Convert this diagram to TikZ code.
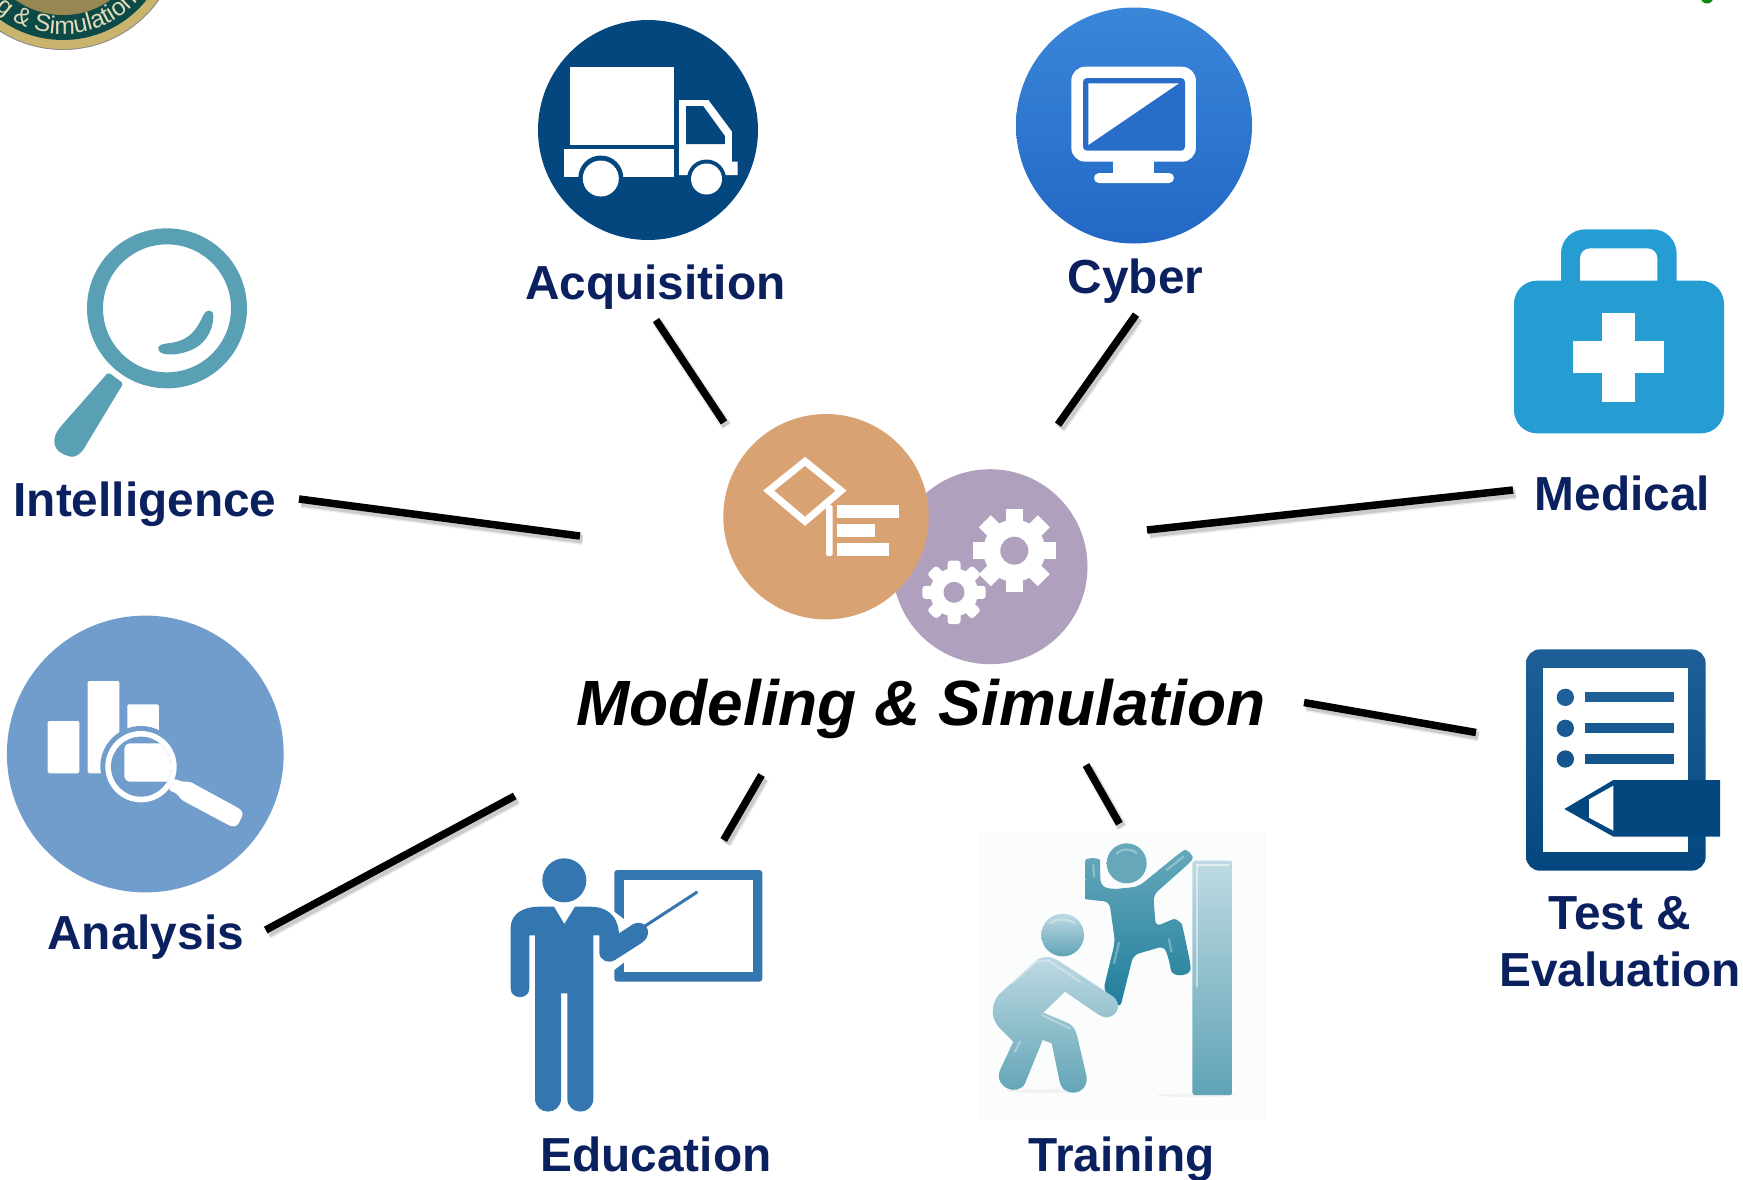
\documentclass[tikz,border=0pt]{standalone}
\usepackage{fontspec}
\setmainfont{Liberation Sans}
\usetikzlibrary{decorations.text}
\definecolor{navy}{HTML}{0B205F}
\definecolor{acqblue}{HTML}{04477F}
\definecolor{cyt}{HTML}{3A86D8}
\definecolor{cyb}{HTML}{2368C5}
\definecolor{edublue}{HTML}{3376B0}
\definecolor{ana}{HTML}{719DCD}
\definecolor{ora}{HTML}{D9A273}
\definecolor{pur}{HTML}{AFA0BD}
\definecolor{intel}{HTML}{5AA0B4}
\definecolor{med}{HTML}{259DD3}
\definecolor{rimgold}{HTML}{C9B46E}
\definecolor{medgreen}{HTML}{0C4A48}
\definecolor{tallgreen}{HTML}{0B8A12}
\definecolor{testtop}{HTML}{1F5F97}
\definecolor{climbtop}{HTML}{66A8BA}
\definecolor{climbbot}{HTML}{1F7E9C}
\definecolor{helptop}{HTML}{BFDAE2}
\definecolor{helpbot}{HTML}{5FA3B6}
\definecolor{traybg}{HTML}{FBFDFD}
\tikzset{
  label/.style={anchor=base,text=navy,inner sep=0pt,font=\fontsize{47.8}{57}\selectfont\bfseries},
  title/.style={anchor=base,text=black,inner sep=0pt,font=\fontsize{64}{70}\selectfont\bfseries\itshape},
  link/.style={line width=7.5pt,black,
    preaction={draw=black!50,line width=11pt,opacity=.15,transform canvas={shift={(2.5pt,-3.5pt)}}},
    preaction={draw=black!50,line width=8pt,opacity=.3,transform canvas={shift={(2.5pt,-3.5pt)}}}},
  zoomed/.style 2 args={shift={(#1,#2)},x=0.33333pt,y=-0.33333pt},
  truckzoom/.style={shift={(530,10)},x=0.4719pt,y=-0.33333pt},
  glint/.style={white,opacity=.3,line width=2.2pt,line cap=round},
}
\begin{document}
\begin{tikzpicture}[x=1pt,y=-1pt]
\useasboundingbox (0,0) rectangle (1743,1179);
\fill[white] (0,0) rectangle (1743,1179);
\clip (0,0) rectangle (1743,1179);

% medallion, cut by the top edge
\fill[black!45] (63,-67.5) circle [radius=117.5];
\fill[rimgold] (63,-67) circle [radius=116];
\fill[medgreen] (63,-67) circle [radius=107];
\fill[rimgold!75!black] (63,-67) circle [radius=82];
\path[decorate,decoration={text along path,text align=left,
   text={|\fontsize{24.6}{26}\selectfont\color{rimgold!50!white}|g {\&} Simulation}}]
   plot[domain=132:30,samples=50] ({63+101*cos(\x)},{-67+101*sin(\x)});
% remnant of a green letter, top right
\fill[tallgreen] (1707,-3) circle [radius=6.5];

% Acquisition icon
\fill[acqblue] (648,130) circle [radius=110];
\begin{scope}[truckzoom]
  \fill[white] (84,172) rectangle (306,405);
  \fill[white] (72,417) rectangle (306,500);
  \fill[white] (316,270) -- (378,270) -- (428,365) -- (428,455) -- (440,455) -- (440,495) -- (316,495) -- cycle;
  \fill[acqblue] (331,288) -- (367,288) -- (413,378) -- (413,402) -- (331,402) -- cycle;
\end{scope}
\fill[acqblue] (600.8,178) circle [radius=22.5];
\fill[acqblue] (706.5,179) circle [radius=19.5];
\fill[white] (600.8,178.5) circle [radius=18];
\fill[white] (706.5,179) circle [radius=15.5];

% Cyber icon
\shade[top color=cyt,bottom color=cyb] (1134,125.5) circle [radius=118];
\fill[white,rounded corners=14pt] (1071.3,66.7) rectangle (1195.9,161.7);
\fill[cyb!80!cyt,rounded corners=4pt] (1083,78) rectangle (1185,150.7);
\fill[white] (1088.3,83.3) -- (1178.9,83.3) -- (1088.3,145) -- cycle;
\fill[white] (1113.3,160) rectangle (1154.3,175);
\fill[white,rounded corners=5pt] (1094,173) rectangle (1174,183);

% Centre icons
\fill[pur] (990,566.7) circle [radius=97.5];
\begin{scope}[shift={(1014.3,550.7)}]
  \fill[white] (0,0) circle [radius=31];
  \foreach \a in {0,45,...,135} \fill[white,rotate=\a] (-8.5,-41.7) rectangle (8.5,41.7);
  \fill[pur] (0,0) circle [radius=14];
\end{scope}
\begin{scope}[shift={(954,592.3)}]
  \fill[white] (0,0) circle [radius=24];
  \foreach \a in {0,45,...,135} \fill[white,rotate=\a,rounded corners=3pt] (-6.5,-31.7) rectangle (6.5,31.7);
  \fill[pur] (0,0) circle [radius=10.5];
\end{scope}
\fill[ora] (826,516.7) circle [radius=102.7];
\begin{scope}[zoomed={700}{400}]
  \draw[white,line width=7pt,line join=miter] (315,184) -- (423,272) -- (315,364) -- (206,272) -- cycle;
  \fill[white,rounded corners=1.5pt] (378,315) rectangle (398,468);
  \fill[white] (412,314) rectangle (597,354);
  \fill[white] (412,372) rectangle (525,411);
  \fill[white] (412,428) rectangle (568,468);
\end{scope}

% Intelligence icon
\begin{scope}[zoomed={40}{220}]
  \draw[intel,line width=16pt] (381,265) circle [radius=216];
  \fill[intel,rounded corners=2pt] (205,457) -- (250,490) -- (140,672) .. controls (125,700) and (105,715) .. (85,708) .. controls (55,698) and (35,680) .. (48,640) -- (60,622) -- cycle;
  \fill[intel] (355,382) .. controls (360,368) and (395,372) .. (420,362) .. controls (455,350) and (475,320) .. (490,285) .. controls (497,268) and (522,265) .. (520,290) .. controls (518,340) and (490,380) .. (440,395) .. controls (405,408) and (350,408) .. (355,382) -- cycle;
\end{scope}

% Medical icon
\begin{scope}[zoomed={1500}{220}]
  \fill[med,rounded corners=24pt] (183,28) rectangle (530,260);
  \fill[white,rounded corners=10pt] (240,85) rectangle (472,220);
  \fill[med,rounded corners=23pt] (42,182) rectangle (672,640);
  \fill[white] (306,278) rectangle (405,547);
  \fill[white] (220,362) rectangle (491,460);
\end{scope}

% Analysis icon
\fill[ana] (145.3,754) circle [radius=138.4];
\begin{scope}[zoomed={0}{610}]
  \fill[white,rounded corners=1.5pt] (143,333) rectangle (238,490);
  \fill[white,rounded corners=1.5pt] (263,213) rectangle (358,490);
  \fill[white,rounded corners=1.5pt] (382,283) rectangle (477,400);
  \fill[ana] (423,470) circle [radius=122];
  \fill[white] (423,470) circle [radius=107];
  \fill[ana] (423,470) circle [radius=90];
  \begin{scope}
    \clip (423,470) circle [radius=90];
    \fill[white,rounded corners=6pt] (373,400) rectangle (520,515);
  \end{scope}
  \fill[white,rounded corners=3pt] (522,505) -- (545,515) -- (570,515) -- (722,598) -- (730,612) -- (712,648) -- (695,650) -- (545,570) -- (530,550) -- (505,540) -- cycle;
\end{scope}

% Education icon
\begin{scope}[zoomed={480}{830}]
  \fill[edublue,rounded corners=3pt] (403,120) rectangle (847,455);
  \fill[white] (433,151) rectangle (818,425);
  \fill[white] (396,240) -- (435,270) -- (435,395) -- (396,425) -- cycle;
  \draw[edublue,line width=3pt,line cap=round] (495,288) -- (650,187);
  \fill[edublue] (253,151) circle [radius=66];
  \fill[edublue] (222,230) -- (253,282) -- (285,230) -- (330,230)
     .. controls (375,230) and (412,250) .. (417,310)
     -- (460,282) .. controls (485,270) and (510,290) .. (503,315)
     .. controls (500,328) and (490,335) .. (480,342)
     -- (405,390) .. controls (385,402) and (358,390) .. (358,368)
     -- (358,316) -- (340,316) -- (340,805)
     .. controls (340,858) and (262,858) .. (262,805)
     -- (262,490) -- (243,490) -- (243,805)
     .. controls (243,858) and (165,858) .. (165,805)
     -- (165,316) -- (148,316) -- (148,475)
     .. controls (148,510) and (92,510) .. (92,475)
     -- (92,295) .. controls (92,250) and (130,230) .. (180,230) -- cycle;
\end{scope}

% Training icon
\begin{scope}[zoomed={970}{820}]
  \fill[traybg] (25,37) rectangle (887,900);
  \fill[black!8,opacity=.6] (215,813) ellipse [x radius=110,y radius=6];
  \fill[black!8,opacity=.6] (680,826) ellipse [x radius=120,y radius=5];
  \shade[top color=helptop,bottom color=helpbot,rounded corners=2.5pt] (667,122) rectangle (787,825);
  \draw[glint,opacity=.5] (680,135) -- (680,500);
  \draw[glint,opacity=.5] (682,134) -- (775,134);
  % climber
  \shade[top color=climbtop,bottom color=climbtop] (470,130) circle [radius=60];
  \draw[glint] (440,100) .. controls (455,85) and (485,85) .. (500,100);
  \shade[top color=climbtop,bottom color=climbbot,rounded corners=6pt]
     (346,140) .. controls (346,112) and (390,112) .. (390,140) -- (392,198) -- (425,208) -- (505,200)
     -- (628,100) .. controls (650,85) and (675,110) .. (655,132)
     -- (550,225) -- (557,320) -- (595,303) .. controls (618,295) and (635,310) .. (640,330)
     -- (660,425) .. controls (665,470) and (605,475) .. (600,430)
     -- (583,378) -- (490,405) -- (450,565) -- (400,510) -- (435,365) -- (418,245)
     -- (365,240) .. controls (350,238) and (347,232) .. (347,220) -- cycle;
  \draw[glint] (370,135) -- (372,170);
  \draw[glint] (640,110) -- (590,150);
  \draw[glint] (447,368) -- (432,430);
  \draw[glint] (597,358) -- (604,395);
  % helper
  \shade[top color=helptop,bottom color=helpbot] (278,345) circle [radius=64];
  \draw[glint] (240,310) .. controls (260,295) and (295,295) .. (315,310);
  \shade[top color=helptop,bottom color=helpbot]
     (195,425) .. controls (215,405) and (245,408) .. (265,422)
     -- (430,530) .. controls (455,550) and (445,590) .. (410,592)
     .. controls (400,592) and (390,587) .. (380,580)
     -- (285,515) -- (220,578) -- (285,605) .. controls (310,615) and (318,630) .. (322,650)
     -- (350,770) .. controls (355,830) and (275,835) .. (268,780)
     -- (245,670) -- (218,660) -- (165,790) .. controls (145,830) and (70,805) .. (90,750)
     -- (130,665) -- (85,620) .. controls (65,595) and (60,560) .. (85,525) -- cycle;
  \draw[glint] (125,490) -- (200,425) -- (240,422);
  \draw[glint] (215,585) -- (300,625);
  \draw[glint] (150,665) -- (135,695);
  \draw[glint] (240,425) -- (330,485);
\end{scope}

% Test & Evaluation icon
\begin{scope}[zoomed={1500}{640}]
  \shade[top color=testtop,bottom color=acqblue,rounded corners=14pt] (78,28) rectangle (617,692);
  \fill[white] (130,83) rectangle (563,637);
  \fill[testtop] (196,172) circle [radius=26];
  \fill[testtop!80!acqblue] (196,265) circle [radius=26];
  \fill[testtop!60!acqblue] (196,357) circle [radius=26];
  \fill[testtop] (255,157) rectangle (521,187);
  \fill[testtop!80!acqblue] (255,250) rectangle (521,280);
  \fill[testtop!60!acqblue] (255,343) rectangle (521,372);
  \fill[acqblue] (193,507) -- (340,420) -- (660,420) -- (660,590) -- (340,590) -- cycle;
  \fill[white] (267,478) -- (340,437) -- (340,572) -- (267,533) -- cycle;
\end{scope}

% labels
\node[label] (acq) at (655.3,299) {Acquisition};
\node[label] (cyb) at (1135.5,293.5) {Cyber};
\node[label] (int) at (145,516) {Intelligence};
\node[label] (medl) at (1622.4,510) {Medical};
\node[label] (anl) at (145.6,949) {Analysis};
\node[label,align=center,anchor=center] (tst) at (1620,942) {Test \&\\Evaluation};
\node[label] (edu) at (656,1171.6) {Education};
\node[label] (trn) at (1121.6,1171.6) {Training};
\node[title] (ms) at (921,725.5) {Modeling \& Simulation};

% connector ends
\coordinate (acq-a) at (656,320);   \coordinate (acq-b) at (724,422.4);
\coordinate (cyb-a) at (1136,314.6); \coordinate (cyb-b) at (1058,424.6);
\coordinate (int-a) at (299,499);   \coordinate (int-b) at (580,536);
\coordinate (med-a) at (1513,490);  \coordinate (med-b) at (1147,530);
\coordinate (tst-a) at (1476,732.5); \coordinate (tst-b) at (1304,702.5);
\coordinate (anl-a) at (265.7,930); \coordinate (anl-b) at (514.7,796);
\coordinate (edu-a) at (723.7,840); \coordinate (edu-b) at (761.5,775);
\coordinate (trn-a) at (1119.4,823.7); \coordinate (trn-b) at (1086,765);
\draw[link] (acq-a) -- (acq-b);
\draw[link] (cyb-a) -- (cyb-b);
\draw[link] (int-a) -- (int-b);
\draw[link] (med-a) -- (med-b);
\draw[link] (tst-a) -- (tst-b);
\draw[link] (anl-a) -- (anl-b);
\draw[link] (edu-a) -- (edu-b);
\draw[link] (trn-a) -- (trn-b);
\end{tikzpicture}
\end{document}
